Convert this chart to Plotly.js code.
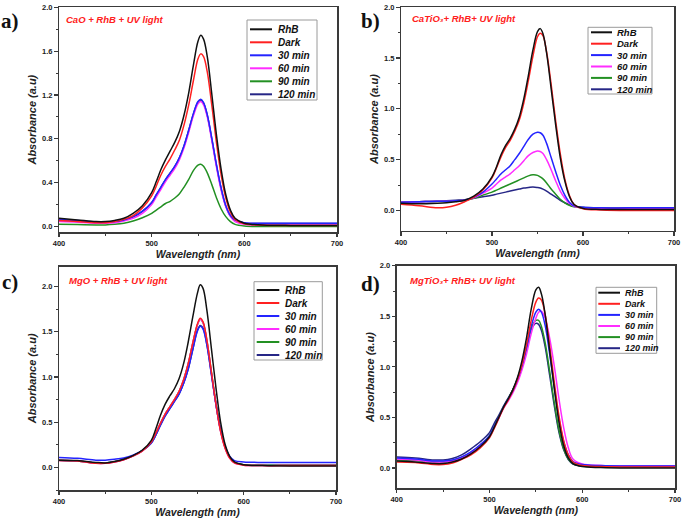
<!DOCTYPE html>
<html>
<head>
<meta charset="utf-8">
<script src="https://cdn.plot.ly/plotly-3.0.1.min.js"></script>
<style>html,body{margin:0;padding:0;background:#fff;}#chart{width:685px;height:521px;}</style>
</head>
<body>
<div id="chart"></div>
<script>
// ---------------- DATA ----------------
const WL = [400,420,440,450,460,470,480,490,500,505,510,515,520,525,530,535,540,545,550,553,556,560,565,570,575,580,585,590,600,620,650,700];
const SERIES_NAMES = ['RhB','Dark','30 min','60 min','90 min','120 min'];
const PANEL_TITLES = ['CaO + RhB + UV light','CaTiO₃+ RhB+ UV light','MgO + RhB + UV light','MgTiO₃+ RhB+ UV light'];
const PANEL_LABELS = ['a)','b)','c)','d)'];
const X_TICKS = [400,500,600,700];

// (a) CaO
const A_RHB  = [.075,.06,.045,.045,.055,.075,.12,.19,.31,.41,.52,.61,.69,.77,.87,1.02,1.22,1.47,1.69,1.745,1.71,1.55,1.20,.83,.52,.29,.15,.075,.03,.015,.01,.01];
const A_DARK = [.055,.045,.035,.035,.045,.065,.10,.17,.28,.37,.47,.55,.62,.70,.79,.93,1.11,1.33,1.53,1.575,1.55,1.41,1.10,.76,.47,.26,.13,.065,.025,.012,.01,.01];
const A_30   = [.065,.055,.04,.04,.045,.06,.09,.14,.22,.29,.36,.43,.49,.55,.63,.74,.88,1.03,1.14,1.16,1.13,1.02,.80,.56,.35,.19,.10,.06,.035,.03,.03,.03];
const A_60   = [.045,.04,.03,.03,.035,.05,.075,.12,.20,.27,.34,.41,.47,.53,.61,.72,.86,1.01,1.12,1.14,1.11,1.00,.78,.54,.33,.18,.09,.045,.02,.015,.015,.015];
const A_90   = [.02,.018,.015,.015,.02,.03,.05,.08,.12,.15,.18,.21,.23,.26,.30,.36,.43,.51,.56,.568,.55,.49,.38,.26,.16,.09,.045,.02,.005,0,0,0];
const A_120  = [.06,.05,.038,.038,.043,.058,.088,.138,.218,.288,.358,.428,.488,.548,.628,.738,.878,1.025,1.135,1.155,1.125,1.015,.795,.555,.345,.188,.098,.058,.033,.028,.028,.028];

// (b) CaTiO3
const B_RHB  = [.07,.065,.07,.075,.085,.10,.14,.21,.33,.43,.55,.64,.71,.80,.92,1.10,1.33,1.58,1.76,1.79,1.74,1.55,1.20,.84,.52,.29,.14,.06,.02,.01,.01,.01];
const B_DARK = [.06,.045,.025,.03,.05,.085,.13,.20,.32,.42,.53,.62,.69,.78,.89,1.06,1.28,1.52,1.71,1.745,1.72,1.56,1.24,.88,.56,.31,.15,.06,.015,.005,0,0];
const B_30   = [.08,.085,.09,.09,.095,.10,.13,.18,.26,.31,.36,.40,.44,.50,.56,.63,.70,.75,.77,.765,.74,.66,.52,.38,.25,.15,.08,.045,.03,.025,.025,.025];
const B_60   = [.08,.085,.09,.09,.095,.10,.125,.17,.22,.26,.30,.33,.36,.40,.44,.49,.54,.57,.585,.58,.56,.50,.40,.29,.19,.12,.07,.04,.025,.02,.02,.02];
const B_90   = [.08,.085,.09,.09,.095,.10,.12,.15,.18,.20,.22,.24,.26,.28,.30,.32,.34,.35,.345,.33,.31,.27,.21,.16,.11,.075,.05,.035,.025,.02,.02,.02];
const B_120  = [.08,.085,.09,.095,.10,.105,.12,.135,.15,.16,.17,.18,.19,.20,.21,.22,.225,.23,.225,.22,.21,.19,.16,.13,.10,.075,.055,.04,.03,.025,.025,.025];

// (c) MgO
const C_RHB  = [.08,.075,.055,.05,.065,.09,.13,.19,.30,.43,.58,.70,.79,.87,.98,1.15,1.39,1.67,1.93,2.02,1.98,1.75,1.32,.88,.50,.25,.12,.06,.03,.02,.015,.015];
const C_DARK = [.075,.07,.045,.045,.06,.085,.125,.18,.28,.38,.49,.59,.67,.75,.84,.97,1.15,1.38,1.59,1.65,1.61,1.42,1.06,.70,.40,.21,.10,.05,.025,.02,.02,.02];
const C_30   = [.11,.10,.08,.08,.09,.105,.135,.185,.27,.36,.47,.57,.65,.73,.81,.93,1.09,1.31,1.51,1.56,1.53,1.36,1.03,.70,.42,.23,.12,.075,.06,.055,.055,.055];
const C_60   = [.075,.07,.045,.045,.06,.085,.125,.18,.28,.38,.49,.59,.67,.75,.84,.97,1.15,1.38,1.58,1.64,1.60,1.41,1.05,.69,.40,.21,.10,.05,.025,.02,.02,.02];
const C_90   = [.08,.072,.048,.048,.062,.087,.127,.182,.282,.38,.49,.59,.67,.75,.84,.97,1.15,1.38,1.58,1.64,1.60,1.41,1.06,.70,.41,.22,.11,.055,.03,.025,.025,.025];
const C_120  = [.08,.072,.05,.05,.063,.088,.128,.182,.27,.36,.47,.57,.65,.73,.81,.93,1.09,1.31,1.52,1.57,1.54,1.37,1.04,.70,.41,.22,.11,.055,.03,.025,.025,.025];

// (d) MgTiO3
const D_RHB  = [.07,.06,.045,.045,.06,.09,.14,.21,.31,.40,.50,.60,.68,.77,.89,1.06,1.29,1.57,1.76,1.787,1.72,1.52,1.15,.78,.45,.22,.10,.045,.015,.005,0,0];
const D_DARK = [.06,.055,.035,.035,.05,.085,.13,.20,.30,.39,.49,.59,.67,.76,.87,1.02,1.22,1.46,1.64,1.68,1.66,1.52,1.20,.84,.51,.27,.13,.06,.025,.015,.01,.01];
const D_30   = [.10,.09,.07,.07,.08,.11,.16,.23,.32,.41,.50,.60,.68,.76,.87,1.01,1.19,1.40,1.54,1.57,1.54,1.41,1.12,.79,.48,.26,.13,.065,.035,.025,.02,.02];
const D_60   = [.09,.08,.06,.06,.07,.10,.15,.22,.31,.40,.49,.59,.66,.74,.84,.97,1.13,1.33,1.48,1.54,1.55,1.48,1.28,1.00,.68,.40,.20,.09,.04,.025,.02,.02];
const D_90   = [.08,.075,.06,.06,.075,.105,.155,.225,.32,.41,.50,.60,.68,.77,.87,1.01,1.19,1.38,1.46,1.46,1.40,1.24,.95,.64,.37,.19,.09,.045,.02,.015,.015,.015];
const D_120  = [.11,.10,.08,.08,.095,.13,.19,.26,.35,.44,.52,.61,.69,.77,.88,1.02,1.20,1.37,1.43,1.42,1.36,1.20,.91,.61,.35,.18,.085,.04,.02,.015,.015,.015];

const PANEL_DATA = [
  [A_RHB,A_DARK,A_30,A_60,A_90,A_120],
  [B_RHB,B_DARK,B_30,B_60,B_90,B_120],
  [C_RHB,C_DARK,C_30,C_60,C_90,C_120],
  [D_RHB,D_DARK,D_30,D_60,D_90,D_120]
];

// ---------------- STYLE / LAYOUT ----------------
const W = 685, H = 521;
const COLORS = ['#111111','#ff2020','#2424ff','#ff2cff','#239023','#262686'];
const PX = p => p / W;
const PY = p => 1 - p / H;

// plot-area pixel boxes [left, right, top, bottom]
const BOX = [[59,337,7.3,232],[401,674,7.3,230.7],[59,336,266.7,490],[396.7,675,265.7,488.3]];
const YRANGE = [[-0.05,2.0],[-0.2,2.0],[-0.25,2.22],[-0.2,2.0]];
const YDTICK = [0.4,0.5,0.5,0.5];

const FONT = 'Arial, "Liberation Sans", sans-serif';
const traces = [];
const order = [5,4,3,2,1,0];
PANEL_DATA.forEach((ser, p) => {
  const sfx = p === 0 ? '' : String(p + 1);
  order.forEach(i => {
    traces.push({
      x: WL, y: ser[i], type: 'scatter', mode: 'lines',
      name: SERIES_NAMES[i], showlegend: false,
      xaxis: 'x' + sfx, yaxis: 'y' + sfx,
      line: {color: COLORS[i], width: 1.5, shape: 'spline', smoothing: 1},
      hoverinfo: 'skip'
    });
  });
});

const layout = {
  width: W, height: H, autosize: false,
  margin: {l: 0, r: 0, t: 0, b: 0},
  paper_bgcolor: '#ffffff', plot_bgcolor: '#ffffff',
  showlegend: false,
  font: {family: FONT, color: '#111'},
  shapes: [], annotations: []
};

BOX.forEach((b, p) => {
  const sfx = p === 0 ? '' : String(p + 1);
  const axStyle = {
    showgrid: false, zeroline: false, showline: true, mirror: true,
    linecolor: '#3a3a3a', linewidth: 1.5,
    ticks: 'outside', ticklen: 3.5, tickwidth: 1.2, tickcolor: '#3a3a3a',
    tickfont: {family: FONT, size: 7.5, weight: 'bold', color: '#222'},
    fixedrange: true
  };
  layout['xaxis' + sfx] = Object.assign({}, axStyle, {
    domain: [PX(b[0]), PX(b[1])], anchor: 'y' + sfx,
    range: [400, 700], tickvals: X_TICKS,
    minor: {dtick: 50, ticks: 'outside', ticklen: 2, tickcolor: '#3a3a3a', tickwidth: 1},
    title: {text: 'Wavelength (nm)', font: {family: FONT, size: 10.5, weight: 'bold', style: 'italic', color: '#222'}, standoff: 1}
  });
  layout['yaxis' + sfx] = Object.assign({}, axStyle, {
    domain: [PY(b[3]), PY(b[2])], anchor: 'x' + sfx,
    range: YRANGE[p], tick0: 0, dtick: YDTICK[p], tickformat: '.1f',
    minor: {dtick: YDTICK[p] / 2, ticks: 'outside', ticklen: 2, tickcolor: '#3a3a3a', tickwidth: 1},
    title: {text: 'Absorbance (a.u)', font: {family: FONT, size: 11, weight: 'bold', style: 'italic', color: '#222'}, standoff: 3}
  });
});

// panel labels & inner titles
const LABEL_POS = [[10,21],[370,21],[10,282],[370,283.5]];
const TITLE_POS = [[64,19],[410,18.3],[66.5,280],[408,280.7]];
PANEL_LABELS.forEach((t, p) => {
  layout.annotations.push({
    text: t, xref: 'paper', yref: 'paper', x: PX(LABEL_POS[p][0]), y: PY(LABEL_POS[p][1]),
    xanchor: 'center', yanchor: 'middle', showarrow: false,
    font: {family: '"Liberation Serif", "Times New Roman", serif', size: 21, weight: 'bold', color: '#111'}
  });
  layout.annotations.push({
    text: PANEL_TITLES[p], xref: 'paper', yref: 'paper', x: PX(TITLE_POS[p][0]), y: PY(TITLE_POS[p][1]),
    xanchor: 'left', yanchor: 'middle', showarrow: false,
    font: {family: FONT, size: 9.5, weight: 'bold', style: 'italic', color: '#ff2020'}
  });
});

// custom compact legends: [boxL, boxR, boxT, boxB, firstY, step, lineX0, lineX1, textX, fontSize]
const LEG = [
  [247,317,20,100,29.3,13,250,272,276,10],
  [588,652,27.3,94,32.3,11.4,591,612,615,9.5],
  [254,322.3,281.7,360,290,13,256.7,279.3,282.7,10],
  [596,656.7,287.3,353.3,292.7,11.1,598.3,620,622.7,9]
];
LEG.forEach(L => {
  layout.shapes.push({type: 'rect', xref: 'paper', yref: 'paper',
    x0: PX(L[0]), x1: PX(L[1]), y0: PY(L[3]), y1: PY(L[2]),
    line: {color: '#9a9a9a', width: 1}, fillcolor: 'rgba(255,255,255,0)'});
  SERIES_NAMES.forEach((n, i) => {
    const yy = L[4] + i * L[5];
    layout.shapes.push({type: 'line', xref: 'paper', yref: 'paper',
      x0: PX(L[6]), x1: PX(L[7]), y0: PY(yy), y1: PY(yy),
      line: {color: COLORS[i], width: 2}});
    layout.annotations.push({text: n, xref: 'paper', yref: 'paper',
      x: PX(L[8]), y: PY(yy), xanchor: 'left', yanchor: 'middle', showarrow: false,
      font: {family: FONT, size: L[9], weight: 'bold', style: 'italic', color: '#111'}});
  });
});

Plotly.newPlot('chart', traces, layout, {displayModeBar: false, staticPlot: true});
</script>
</body>
</html>
